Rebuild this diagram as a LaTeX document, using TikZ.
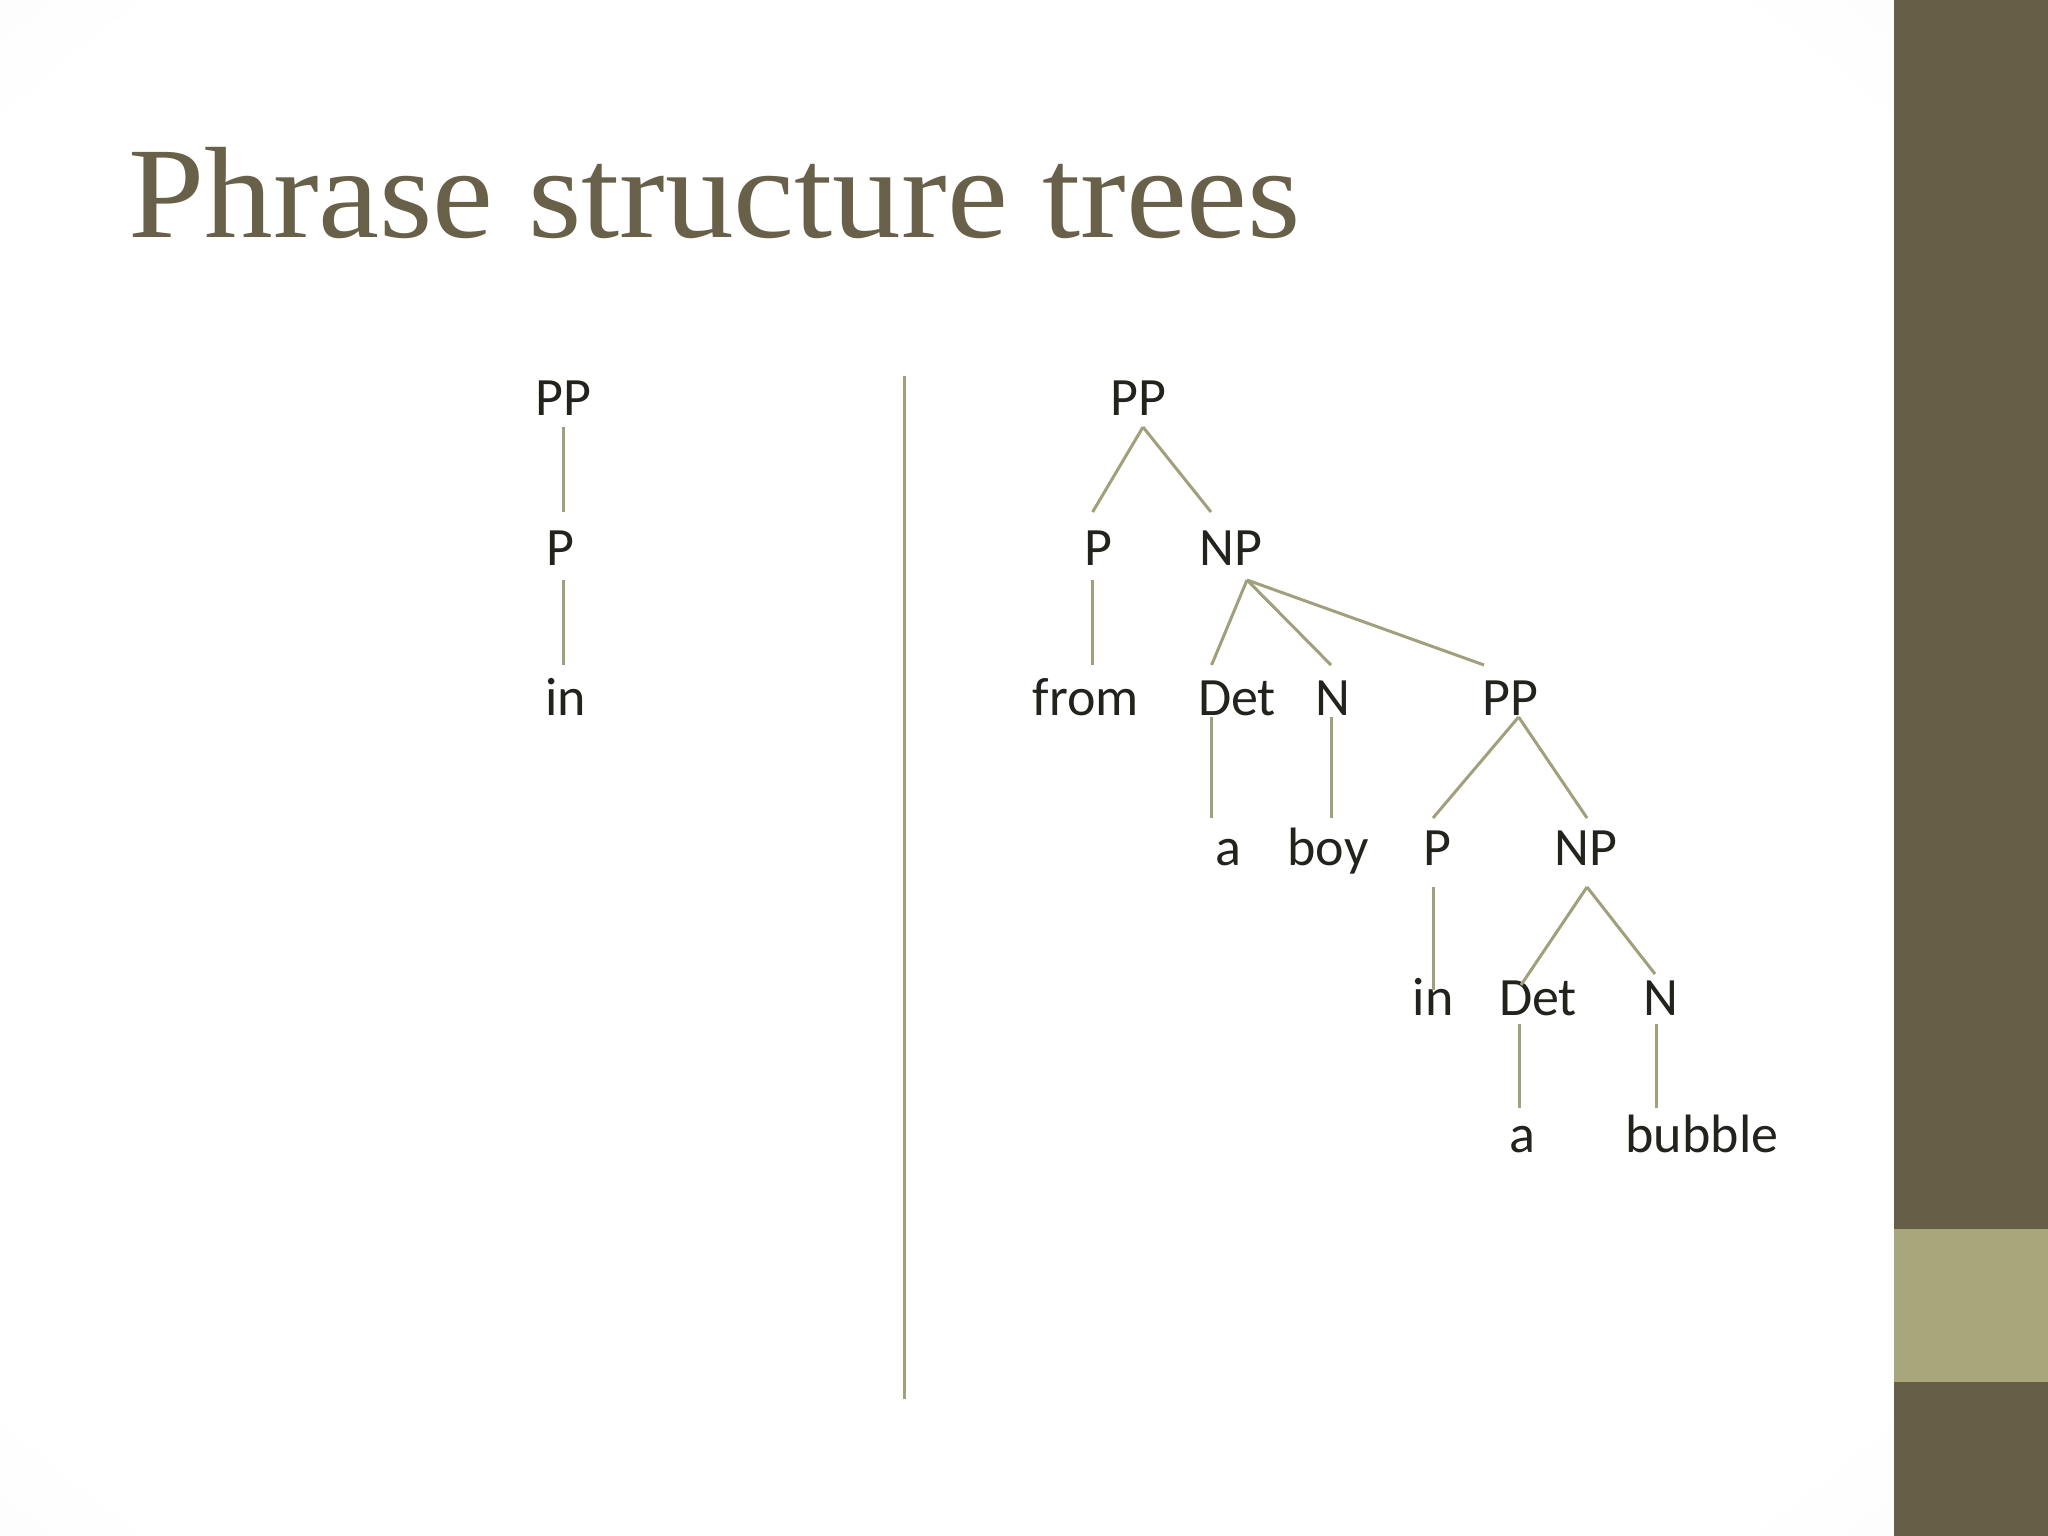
\documentclass[tikz,border=0pt]{standalone}
\usepackage{fontspec}
\setmainfont{Liberation Serif}
\newfontfamily\treefont{Carlito}
\usetikzlibrary{calc}
\definecolor{titlec}{RGB}{104,96,72}
\definecolor{bardark}{RGB}{103,94,71}
\definecolor{barlight}{RGB}{168,166,123}
\definecolor{linec}{RGB}{160,160,124}
\definecolor{textc}{RGB}{35,35,30}
\pgfdeclareradialshading{vign}{\pgfpoint{0bp}{0bp}}{color(0bp)=(white); color(32bp)=(white); color(48bp)=(black!4); color(60bp)=(black!9); color(72bp)=(black!15)}
\tikzset{
  lbl/.style={anchor=base, inner sep=0pt, text=textc, font=\treefont\fontsize{54}{66}\selectfont},
  edge/.style={draw=linec, line width=3pt},
}
\begin{document}
\begin{tikzpicture}[x=1pt,y=-1pt]
\useasboundingbox (0,0) rectangle (2048,1536);
% background
\shade[shading=vign] (0,0) rectangle (1894,1536);
\fill[bardark] (1894,0) rectangle (2048,1536);
\fill[barlight] (1894,1229) rectangle (2048,1382);
% title
\node[anchor=base west, inner sep=0pt, text=titlec, font=\fontsize{130}{150}\selectfont] (title) at (128,237) {\scalebox{1.055}[1]{Phrase structure trees}};
% divider
\coordinate (dtop) at (904,376);
\coordinate (dbot) at (904,1399);
\draw[edge] (dtop) -- (dbot);
% left tree
\node[lbl] (lPP) at (563,415) {PP};
\node[lbl] (lP) at (560,565) {P};
\node[lbl] (lin) at (566,715) {in};
\draw[edge] ($(lPP.base)+(0,12)$) -- ($(lP.base)+(3,-53)$);
\draw[edge] ($(lP.base)+(3,15)$) -- ($(lin.base)+(-3,-50)$);
% right tree
\node[lbl] (rPP) at (1138,415) {PP};
\node[lbl] (rP) at (1098,565) {P};
\node[lbl] (rNP) at (1231,565) {NP};
\node[lbl] (from) at (1086,715) {from};
\node[lbl] (Det1) at (1237,715) {Det};
\node[lbl] (N1) at (1333,715) {N};
\node[lbl] (PP2) at (1510,715) {PP};
\node[lbl] (a1) at (1228,865) {a};
\node[lbl] (boy) at (1328,865) {boy};
\node[lbl] (P2) at (1437,865) {P};
\node[lbl] (NP2) at (1586,865) {NP};
\node[lbl] (in2) at (1433,1015) {in};
\node[lbl] (Det2) at (1538,1015) {Det};
\node[lbl] (N2) at (1661,1015) {N};
\node[lbl] (a2) at (1522,1152) {a};
\node[lbl] (bubble) at (1702,1152) {bubble};
\draw[edge] ($(rPP.base)+(5,12)$) -- ($(rP.base)+(-5.4,-53)$);
\draw[edge] ($(rPP.base)+(5,12)$) -- ($(rNP.base)+(-20,-53)$);
\draw[edge] ($(rP.base)+(-5.4,15)$) -- ($(from.base)+(6.6,-50)$);
\draw[edge] ($(rNP.base)+(16,15)$) -- ($(Det1.base)+(-25.4,-50)$);
\draw[edge] ($(rNP.base)+(16,15)$) -- ($(N1.base)+(-2,-50)$);
\draw[edge] ($(rNP.base)+(16,15)$) -- ($(PP2.base)+(-26,-50)$);
\draw[edge] ($(Det1.base)+(-25.4,2)$) -- ($(a1.base)+(-16.4,-47)$);
\draw[edge] ($(N1.base)+(-2,2)$) -- ($(boy.base)+(3,-47)$);
\draw[edge] ($(PP2.base)+(8.6,2)$) -- ($(P2.base)+(-4,-47)$);
\draw[edge] ($(PP2.base)+(8.6,2)$) -- ($(NP2.base)+(1,-47)$);
\draw[edge] ($(P2.base)+(-4,22)$) -- ($(in2.base)+(0,-25)$);
\draw[edge] ($(NP2.base)+(1,22)$) -- ($(Det2.base)+(-17,-30)$);
\draw[edge] ($(NP2.base)+(1,22)$) -- ($(N2.base)+(-6,-41)$);
\draw[edge] ($(Det2.base)+(-19,9)$) -- ($(a2.base)+(-3,-44)$);
\draw[edge] ($(N2.base)+(-5,9)$) -- ($(bubble.base)+(-46,-44)$);
\end{tikzpicture}
\end{document}
